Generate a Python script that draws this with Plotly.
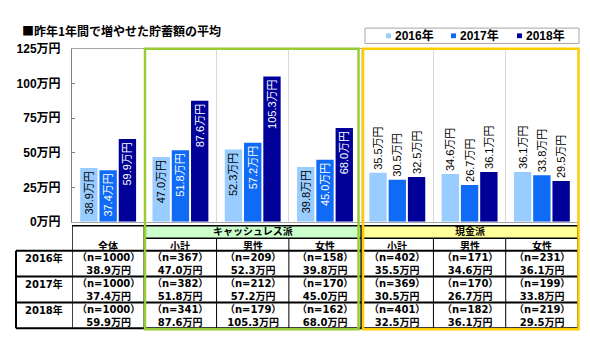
import plotly.graph_objects as go

# ---------------- data ----------------
title = "■昨年1年間で増やせた貯蓄額の平均"
categories = ["全体", "小計", "男性", "女性", "小計", "男性", "女性"]
groups = ["キャッシュレス派", "現金派"]
years = ["2016年", "2017年", "2018年"]
v2016 = [38.9, 47.0, 52.3, 39.8, 35.5, 34.6, 36.1]
v2017 = [37.4, 51.8, 57.2, 45.0, 30.5, 26.7, 33.8]
v2018 = [59.9, 87.6, 105.3, 68.0, 32.5, 36.1, 29.5]
n2016 = [1000, 367, 209, 158, 402, 171, 231]
n2017 = [1000, 382, 212, 170, 369, 170, 199]
n2018 = [1000, 341, 179, 162, 401, 182, 219]
y_ticks = [0, 25, 50, 75, 100, 125]
y_ticktext = ["0万円", "25万円", "50万円", "75万円", "100万円", "125万円"]

values = [v2016, v2017, v2018]
counts = [n2016, n2017, n2018]

# ---------------- layout constants ----------------
W, H = 590, 343
def X(px):
    return px / W
def Y(py):
    return 1 - py / H

colors = ["#99CCFF", "#0F6BF5", "#000099"]
inside_txt = ["black", "white", "white"]
JP = "Liberation Sans, Noto Sans CJK JP"
CJK = "Noto Sans CJK JP"
TBL = "DejaVu Sans, Noto Sans CJK JP"

xs = list(range(len(categories)))
fig = go.Figure()
for k in range(3):
    fig.add_trace(go.Bar(
        x=xs, y=values[k], name=years[k],
        marker=dict(color=colors[k], line=dict(width=0)),
        text=[f"{v:.1f}万円" for v in values[k]],
        textposition=["inside"] * 4 + ["outside"] * 3,
        insidetextanchor="end",
        textangle=-90,
        textfont=dict(family=JP, size=11),
        insidetextfont=dict(color=inside_txt[k], family=JP, size=11),
        outsidetextfont=dict(color="black", family=JP, size=11),
        cliponaxis=False,
        showlegend=False,
    ))

shapes = []
ann = []

# title
ann.append(dict(text=title, x=X(20), y=Y(25), xref="paper", yref="paper",
                xanchor="left", yanchor="middle", showarrow=False,
                font=dict(family=CJK, size=12, color="black", weight="bold")))

# manual legend
shapes.append(dict(type="rect", xref="paper", yref="paper",
                   x0=X(365), x1=X(579), y0=Y(22), y1=Y(38),
                   line=dict(color="#a6a6a6", width=1), fillcolor="white"))
for k, sx in enumerate([386, 451, 517]):
    shapes.append(dict(type="rect", xref="paper", yref="paper",
                       x0=X(sx), x1=X(sx + 5), y0=Y(27.5), y1=Y(32.5),
                       line=dict(width=0), fillcolor=colors[k]))
    ann.append(dict(text=years[k], x=X(sx + 7), y=Y(30), xref="paper", yref="paper",
                    xanchor="left", yanchor="middle", showarrow=False,
                    font=dict(family=JP, size=12, color="black", weight="bold")))

# ---------------- table ----------------
T_TOP, H1, H2, R1, R2, BOT = 228, 241, 254, 281, 308, 335
LEFT = 16

# header fills
shapes.append(dict(type="rect", xref="x", yref="paper", x0=0.5, x1=3.5,
                   y0=Y(T_TOP), y1=Y(H1), fillcolor="#CCFFCC", line=dict(width=0), layer="below"))
shapes.append(dict(type="rect", xref="x", yref="paper", x0=3.5, x1=6.5,
                   y0=Y(T_TOP), y1=Y(H1), fillcolor="#FFFF99", line=dict(width=0), layer="below"))

def hline(py, x0, width=1.5):
    shapes.append(dict(type="line", xref="paper", yref="paper",
                       x0=x0, x1=X(578), y0=Y(py), y1=Y(py),
                       line=dict(color="black", width=width)))

hline(T_TOP, X(72))
shapes.append(dict(type="line", xref="x", yref="paper", x0=0.5, x1=6.5,
                   y0=Y(H1), y1=Y(H1), line=dict(color="black", width=1.5)))
for py in [H2, R1, R2, BOT]:
    hline(py, X(LEFT), 2)

# vertical lines
shapes.append(dict(type="line", xref="paper", yref="paper", x0=X(LEFT), x1=X(LEFT),
                   y0=Y(H2), y1=Y(BOT), line=dict(color="black", width=2)))
for b in [-0.5, 0.5, 3.5, 6.5]:
    shapes.append(dict(type="line", xref="x", yref="paper", x0=b, x1=b,
                       y0=Y(T_TOP), y1=Y(BOT), line=dict(color="black", width=1.5)))
for b in [1.5, 2.5, 4.5, 5.5]:
    shapes.append(dict(type="line", xref="x", yref="paper", x0=b, x1=b,
                       y0=Y(H1), y1=Y(BOT), line=dict(color="black", width=1)))

tfont = dict(family=TBL, size=10, color="black", weight="bold")
hfont = dict(family=CJK, size=10, color="black", weight="bold")
# group headers
for g, xc in zip(groups, [2, 5]):
    ann.append(dict(text=g, x=xc, y=Y(233.3), xref="x", yref="paper",
                    xanchor="center", yanchor="middle", showarrow=False,
                    borderpad=0, font=hfont))
# category headers
for i, c in enumerate(categories):
    ann.append(dict(text=c, x=i, y=Y(248.6), xref="x", yref="paper",
                    xanchor="center", yanchor="middle", showarrow=False,
                    borderpad=0, font=hfont))
# rows
row_tops = [H2, R1, R2]
for r in range(3):
    top = row_tops[r]
    ann.append(dict(text=years[r], x=X(44), y=Y(top + 8), xref="paper", yref="paper",
                    xanchor="center", yanchor="middle", showarrow=False, font=tfont))
    for i in range(len(categories)):
        ann.append(dict(text=f"（n={counts[r][i]}）<br>{values[r][i]:.1f}万円",
                        x=i, y=Y(top + 14), xref="x", yref="paper",
                        xanchor="center", yanchor="middle", showarrow=False,
                        borderpad=0, font=tfont))

# group outline boxes
shapes.append(dict(type="rect", xref="paper", yref="paper", x0=X(145), x1=X(358.5),
                   y0=Y(43.5), y1=Y(336), line=dict(color="#99CC33", width=2.5)))
shapes.append(dict(type="rect", xref="paper", yref="paper", x0=X(363), x1=X(578.5),
                   y0=Y(43.5), y1=Y(336), line=dict(color="#FFCC00", width=2.5)))

fig.update_layout(
    width=W, height=H,
    margin=dict(l=0, r=0, t=0, b=0),
    paper_bgcolor="white", plot_bgcolor="white",
    barmode="group", bargap=0.2, bargroupgap=0.1,
    shapes=shapes, annotations=ann,
    uniformtext=dict(minsize=11, mode="show"),
    xaxis=dict(domain=[X(72), X(578)], range=[-0.5, 6.5],
               tickvals=[0.5, 1.5, 2.5, 3.5, 4.5, 5.5], showticklabels=False,
               showgrid=True, gridcolor="#d9d9d9", gridwidth=1, ticks="",
               showline=True, mirror=True, linecolor="#a6a6a6", zeroline=False),
    yaxis=dict(domain=[Y(224), Y(44)], range=[0, 125],
               tickmode="array", tickvals=y_ticks, ticktext=y_ticktext,
               showgrid=False, zeroline=False,
               ticks="inside", ticklen=3, tickcolor="#808080",
               showline=True, mirror=True, linecolor="#808080",
               ticklabelstandoff=8,
               tickfont=dict(family=JP, size=12, color="black", weight="bold")),
)

fig.write_html("out.html")
